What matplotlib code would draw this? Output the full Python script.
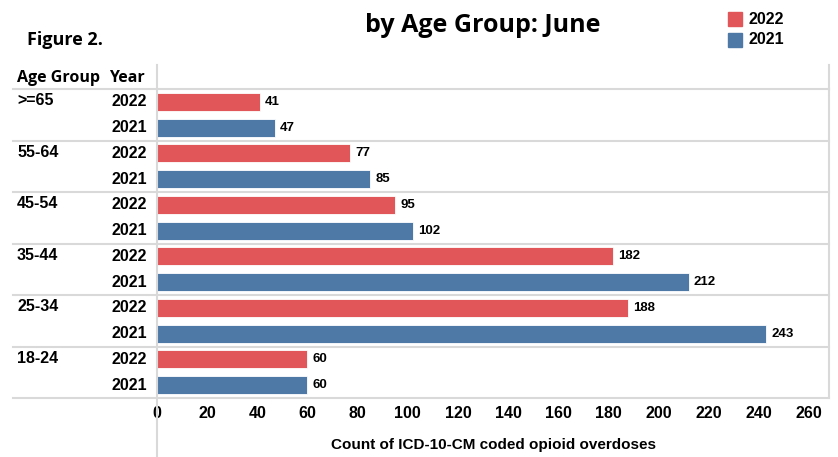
import matplotlib.pyplot as plt
import matplotlib.transforms as mtransforms
from matplotlib.lines import Line2D
from matplotlib.patches import Rectangle

# data
age_groups = [">=65", "55-64", "45-54", "35-44", "25-34", "18-24"]
years = ["2022", "2021"]
counts_2022 = [41, 77, 95, 182, 188, 60]
counts_2021 = [47, 85, 102, 212, 243, 60]
x_ticks = list(range(0, 261, 20))

RED = "#E15759"
BLUE = "#4E79A7"
GRID = "#D9D9D9"
W, H = 838, 457

plt.rcParams['font.family'] = ['Liberation Sans', 'DejaVu Sans']
fig = plt.figure(figsize=(W / 100, H / 100), dpi=100)

def fx(px):
    return px / W

def fy(py):
    return 1 - py / H

ax = fig.add_axes([fx(157), fy(398), fx(829) - fx(157), fy(89) - fy(398)])

# build rows: one per (age group, year)
values, colors, year_labels = [], [], []
for v22, v21 in zip(counts_2022, counts_2021):
    values += [v22, v21]
    colors += [RED, BLUE]
    year_labels += years
rows = list(range(len(values)))

ax.barh(rows, values, height=0.7, color=colors, edgecolor="white", linewidth=0.6)
for r, v in zip(rows, values):
    ax.text(v + 2, r, str(v), va="center", ha="left", fontsize=9.5, fontweight="bold")

ax.set_xlim(0, 268)
ax.set_ylim(len(values) - 0.5, -0.5)
ax.set_yticks([])
ax.set_xticks(x_ticks)
ax.set_xticklabels([str(t) for t in x_ticks], fontsize=11.5, fontweight="bold")
ax.tick_params(axis="x", length=0, pad=6)
for s in ["top", "bottom", "left"]:
    ax.spines[s].set_visible(False)
ax.spines["right"].set_color(GRID)
ax.spines["right"].set_linewidth(1.5)
ax.set_xlabel("Count of ICD-10-CM coded opioid overdoses", fontsize=11,
              fontweight="bold", labelpad=12)

# row labels on the left
blend = mtransforms.blended_transform_factory(fig.transFigure, ax.transData)
for r, yl in zip(rows, year_labels):
    ax.text(fx(147), r, yl, transform=blend, ha="right", va="center",
            fontsize=11.5, fontweight="bold")
for i, g in enumerate(age_groups):
    ax.text(fx(17), 2 * i - 0.05, g, transform=blend, ha="left", va="center",
            fontsize=11.5, fontweight="bold")

# group separators
for b in range(0, len(values) + 1, 2):
    ax.plot([fx(13), fx(829)], [b - 0.5, b - 0.5], transform=blend,
            color=GRID, lw=1.5, clip_on=False)

# vertical divider between labels and chart
fig.add_artist(Line2D([fx(157), fx(157)], [fy(65), 0], color=GRID, lw=1.5))
fig.add_artist(Line2D([fx(829), fx(829)], [fy(65), fy(89)], color=GRID, lw=1.5))

# header
hdr_font = ["Open Sans", "DejaVu Sans"]
fig.text(fx(17), fy(78), "Age Group", ha="left", va="center", fontsize=11.5,
         fontweight="bold", family=hdr_font)
fig.text(fx(109), fy(78), "Year", ha="left", va="center", fontsize=11.5,
         fontweight="bold", family=hdr_font)

# titles
fig.text(fx(483), fy(26), "by Age Group: June", ha="center", va="center",
         fontsize=18, fontweight="bold", family=hdr_font)
fig.text(fx(27), fy(40), "Figure 2.", ha="left", va="center",
         fontsize=13, fontweight="bold", family=hdr_font)

# legend
for yy, c, lab in [(19, RED, years[0]), (40, BLUE, years[1])]:
    fig.add_artist(Rectangle((fx(728), fy(yy + 7)), fx(14), fy(0) - fy(14),
                             color=c, transform=fig.transFigure))
    fig.text(fx(748), fy(yy), lab, ha="left", va="center", fontsize=11.5, fontweight="bold")

fig.savefig("out.png", dpi=100)
